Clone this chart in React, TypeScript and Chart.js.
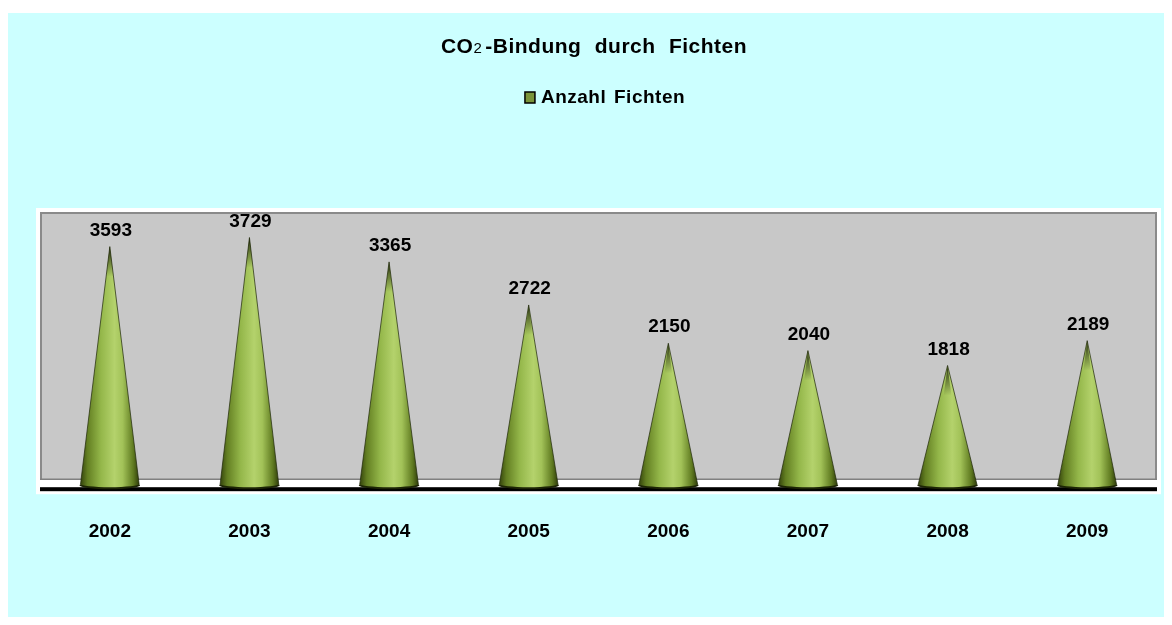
import React, { useEffect, useRef } from "react";
import { Chart, registerables } from "chart.js";

Chart.register(...registerables);

const years = ["2002", "2003", "2004", "2005", "2006", "2007", "2008", "2009"];
const anzahlFichten = [3593, 3729, 3365, 2722, 2150, 2040, 1818, 2189];
const seriesName = "Anzahl Fichten";
const titleParts = ["CO", "2", "-Bindung durch Fichten"];
const yMax = 4110;

const FONT = "'Liberation Sans', Arial, sans-serif";

const conePlugin = {
  id: "cones",
  beforeDatasetsDraw(chart: any) {
    const { ctx, chartArea: ca } = chart;
    ctx.save();
    // outer white frame
    ctx.fillStyle = "#ffffff";
    ctx.fillRect(ca.left - 4, ca.top - 4, ca.right - ca.left + 8, ca.bottom - ca.top + 11);
    // back wall
    ctx.fillStyle = "#c8c8c8";
    ctx.fillRect(ca.left, ca.top, ca.right - ca.left, ca.bottom - ca.top - 8);
    // wall borders
    ctx.strokeStyle = "#8a8a8a";
    ctx.lineWidth = 2;
    ctx.beginPath();
    ctx.moveTo(ca.left + 1, ca.bottom - 8);
    ctx.lineTo(ca.left + 1, ca.top + 1);
    ctx.lineTo(ca.right - 1, ca.top + 1);
    ctx.lineTo(ca.right - 1, ca.bottom - 8);
    ctx.stroke();
    ctx.lineWidth = 1.5;
    ctx.strokeStyle = "#808080";
    ctx.beginPath();
    ctx.moveTo(ca.left, ca.bottom - 8);
    ctx.lineTo(ca.right, ca.bottom - 8);
    ctx.stroke();
    // floor line
    ctx.fillStyle = "#000000";
    ctx.fillRect(ca.left, ca.bottom, ca.right - ca.left, 4);
    ctx.restore();
  },
  afterDatasetsDraw(chart: any) {
    const { ctx } = chart;
    const meta = chart.getDatasetMeta(0);
    ctx.save();
    meta.data.forEach((el: any, i: number) => {
      const x = el.x;
      const top = el.y;
      const base = el.base;
      const hw = el.width / 2;
      const by = base - 3;
      // base shadow
      ctx.fillStyle = "#1c2405";
      ctx.beginPath();
      ctx.ellipse(x, by + 1, hw + 1, 4, 0, 0, Math.PI * 2);
      ctx.fill();
      // cone body
      const g = ctx.createLinearGradient(x - hw, 0, x + hw, 0);
      g.addColorStop(0, "#33420c");
      g.addColorStop(0.12, "#637f22");
      g.addColorStop(0.35, "#94b74a");
      g.addColorStop(0.58, "#b4d26c");
      g.addColorStop(0.72, "#a2c258");
      g.addColorStop(0.9, "#5f7a20");
      g.addColorStop(1, "#2f3c0a");
      ctx.fillStyle = g;
      ctx.beginPath();
      ctx.moveTo(x, top);
      ctx.lineTo(x + hw, by);
      ctx.ellipse(x, by, hw, 3, 0, 0, Math.PI, false);
      ctx.closePath();
      ctx.fill();
      ctx.strokeStyle = "rgba(30,38,8,0.7)";
      ctx.lineWidth = 1;
      ctx.beginPath();
      ctx.moveTo(x - hw, by);
      ctx.lineTo(x, top);
      ctx.lineTo(x + hw, by);
      ctx.stroke();
      // tip darkening
      const tg = ctx.createLinearGradient(0, top, 0, top + 30);
      tg.addColorStop(0, "rgba(20,25,5,0.85)");
      tg.addColorStop(1, "rgba(20,25,5,0)");
      ctx.fillStyle = tg;
      ctx.beginPath();
      ctx.moveTo(x, top);
      ctx.lineTo(x + hw * 0.13, top + 30);
      ctx.lineTo(x - hw * 0.13, top + 30);
      ctx.closePath();
      ctx.fill();
      // value label
      ctx.fillStyle = "#000000";
      ctx.font = `bold 19px ${FONT}`;
      ctx.textAlign = "center";
      ctx.textBaseline = "middle";
      ctx.fillText(String(anzahlFichten[i]), x + 1, top - 16);
    });
    ctx.restore();
  },
  afterDraw(chart: any) {
    const { ctx } = chart;
    ctx.save();
    ctx.fillStyle = "#000000";
    ctx.textBaseline = "alphabetic";
    ctx.textAlign = "left";
    // title with small "2"
    const big = `bold 21px ${FONT}`;
    const small = `15px ${FONT}`;
    (ctx as any).letterSpacing = "0.5px";
    (ctx as any).wordSpacing = "7px";
    ctx.font = big;
    const w0 = ctx.measureText(titleParts[0]).width;
    const w2 = ctx.measureText(titleParts[2]).width;
    ctx.font = small;
    const w1 = ctx.measureText(titleParts[1]).width + 3;
    const total = w0 + w1 + w2;
    let tx = chart.width / 2 + 8 - total / 2;
    const ty = 40;
    ctx.font = big;
    ctx.fillText(titleParts[0], tx, ty);
    tx += w0;
    ctx.font = small;
    ctx.fillText(titleParts[1], tx, ty);
    tx += w1;
    ctx.font = big;
    ctx.fillText(titleParts[2], tx, ty);
    // legend
    ctx.font = `bold 19px ${FONT}`;
    (ctx as any).wordSpacing = "2px";
    const lw = ctx.measureText(seriesName).width;
    const boxW = 10;
    const gap = 6;
    const lx = chart.width / 2 + 19 - (boxW + gap + lw) / 2;
    const ly = 84;
    ctx.fillStyle = "#7a943a";
    ctx.fillRect(lx, ly - 5, boxW, 11);
    ctx.strokeStyle = "#000000";
    ctx.lineWidth = 1.5;
    ctx.strokeRect(lx, ly - 5, boxW, 11);
    ctx.fillStyle = "#000000";
    ctx.textBaseline = "middle";
    ctx.fillText(seriesName, lx + boxW + gap, ly + 1);
    ctx.restore();
  },
};

export default function App() {
  const ref = useRef<HTMLCanvasElement | null>(null);
  useEffect(() => {
    if (!ref.current) return;
    const chart = new Chart(ref.current, {
      type: "bar",
      data: {
        labels: years,
        datasets: [
          {
            label: seriesName,
            data: anzahlFichten,
            backgroundColor: "rgba(0,0,0,0)",
            borderWidth: 0,
            barPercentage: 0.42,
            categoryPercentage: 1,
          },
        ],
      },
      options: {
        responsive: false,
        animation: false,
        layout: { padding: { top: 199, left: 32, right: 7, bottom: 41 } },
        plugins: {
          legend: { display: false },
          title: { display: false },
          tooltip: { enabled: false },
        },
        scales: {
          y: { display: false, min: 0, max: yMax },
          x: {
            grid: { display: false, drawTicks: false },
            border: { display: false },
            ticks: {
              color: "#000000",
              padding: 33,
              font: { family: FONT, size: 19, weight: "bold" },
            },
          },
        },
      },
      plugins: [conePlugin],
    });
    return () => chart.destroy();
  }, []);
  return (
    <div
      style={{
        width: 1156,
        height: 604,
        marginTop: 5,
        background: "#ccffff",
      }}
    >
      <canvas ref={ref} width={1156} height={604} style={{ display: "block" }} />
    </div>
  );
}
